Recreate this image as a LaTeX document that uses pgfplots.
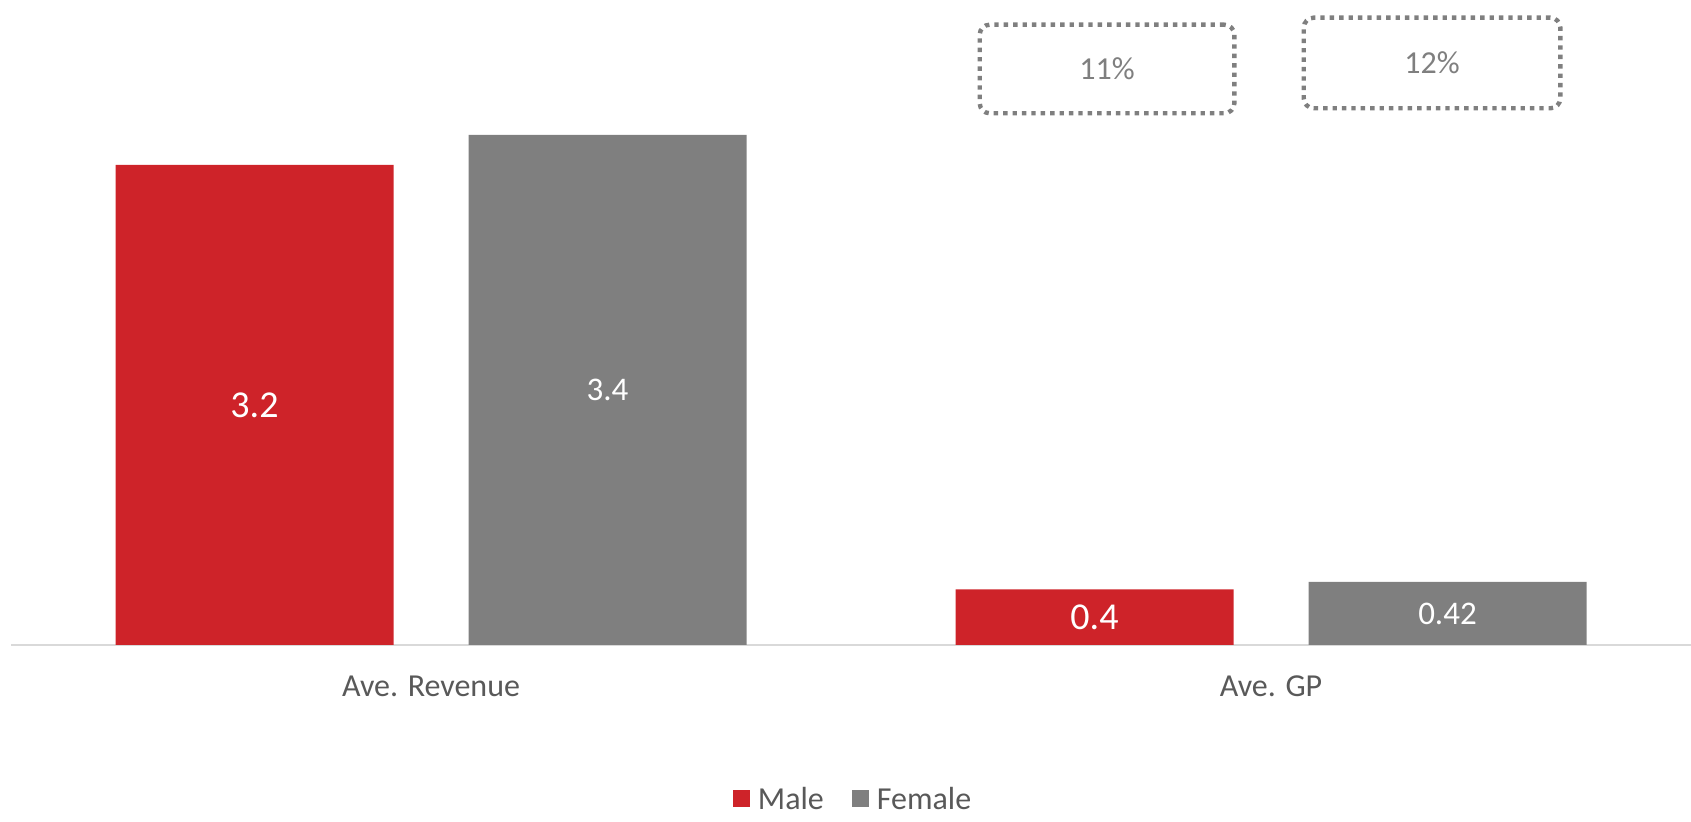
\documentclass[border=0pt]{standalone}
\usepackage{pgfplots}
\pgfplotsset{compat=1.18}
\usepackage{fontspec}
\setmainfont{Carlito}
\definecolor{mred}{HTML}{CE2329}
\definecolor{mgray}{HTML}{7F7F7F}
\definecolor{txt}{HTML}{595959}
\definecolor{axline}{HTML}{D9D9D9}
\begin{document}
\begin{tikzpicture}
\useasboundingbox (-5.5pt,-88.5pt) rectangle (840pt,322.5pt);
\begin{axis}[
  at={(0,0)}, anchor=south west,
  scale only axis, width=840pt, height=317pt,
  xmin=-0.5, xmax=1.5, ymin=0, ymax=4.2267,
  ybar=37.5pt, bar width=139pt,
  hide y axis,
  axis x line*=bottom,
  x axis line style={draw=axline, line width=0.9pt, -},
  xtick={0,1}, xticklabels={Ave. Revenue, Ave. GP},
  major tick length=0pt,
  xticklabel style={font=\fontsize{16}{19}\selectfont, text=txt, anchor=base, yshift=-26pt},
  point meta=explicit symbolic,
  nodes near coords={\pgfplotspointmeta},
  visualization depends on={y \as \rawy},
  every node near coord/.append style={anchor=center, yshift=-\rawy*37.5pt, text=white, inner sep=0pt},
  legend style={at={(0.5018,-0.2445)}, anchor=center, draw=none, fill=none,
    legend columns=2, font=\fontsize{16}{19}\selectfont, text=txt,
    /tikz/every even column/.append style={column sep=12pt}},
  legend cell align=left,
]
\addplot[fill=mred, draw=none,
  legend image code/.code={\fill[mred] (0pt,-3.6pt) rectangle (8.6pt,5pt);\path (10.5pt,0pt);},
  nodes near coords style={font=\fontsize{19}{22}\selectfont}]
  coordinates {(0,3.2) [3.2] (1,0.37) [0.4]};
\addplot[fill=mgray, draw=none,
  legend image code/.code={\fill[mgray] (0pt,-3.6pt) rectangle (8.6pt,5pt);\path (10.5pt,0pt);},
  nodes near coords style={font=\fontsize{16.5}{19}\selectfont}]
  coordinates {(0,3.4) [3.4] (1,0.42) [0.42]};
\legend{Male, Female}
\node[draw=mgray, line width=2.2pt, dash pattern=on 2.2pt off 2.5pt, rounded corners=5pt,
  minimum width=127.3pt, minimum height=44.3pt, inner sep=0pt, text=mgray,
  font=\fontsize{16}{19}\selectfont] at (axis cs:0.8048,3.84) {11\%};
\node[draw=mgray, line width=2.2pt, dash pattern=on 2.2pt off 2.5pt, rounded corners=5pt,
  minimum width=128.3pt, minimum height=45.3pt, inner sep=0pt, text=mgray,
  font=\fontsize{16}{19}\selectfont] at (axis cs:1.1917,3.88) {12\%};
\end{axis}
\end{tikzpicture}
\end{document}
